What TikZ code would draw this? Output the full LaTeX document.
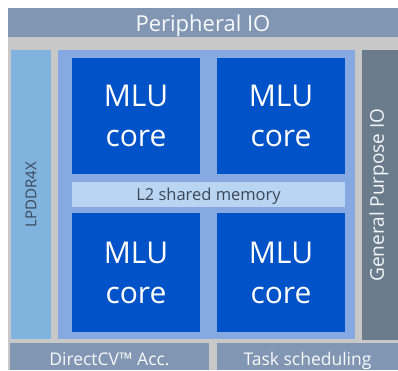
\documentclass[tikz,border=0pt]{standalone}
\usepackage{fontspec}
\setmainfont{Open Sans}
\usepackage{tikz}
\definecolor{outergray}{HTML}{C8C8C8}
\definecolor{barblue}{HTML}{8196B3}
\definecolor{ddrblue}{HTML}{80B3DE}
\definecolor{clusterblue}{HTML}{86A9E2}
\definecolor{coreblue}{HTML}{0052C8}
\definecolor{cacheblue}{HTML}{B9D5F2}
\definecolor{ioslate}{HTML}{6A7B8C}
\definecolor{darktext}{HTML}{3C4858}
\tikzset{
  block/.style={rectangle, anchor=north west, inner sep=0pt, outer sep=0pt},
  core/.style={block, fill=coreblue, text=white, minimum width=128pt, align=center,
    font=\fontsize{30}{40}\selectfont},
}

\begin{document}
\begin{tikzpicture}[x=1pt, y=-1pt]
            \useasboundingbox (0,0) rectangle (398,370);
            % Background
            \node[block, fill=outergray, minimum width=390pt, minimum height=362pt] (chip) at (8,8) {};

            % Nodes
            \node[block, fill=barblue, minimum width=390pt, minimum height=29pt] (periph) at (8,8) {};
            \node[block, fill=ddrblue, minimum width=40pt, minimum height=289pt] (lpddr) at (11,50) {};
            \node[block, fill=clusterblue, minimum width=297pt, minimum height=289pt] (cluster) at (58,50) {};
            \node[block, fill=ioslate, minimum width=36pt, minimum height=290pt] (gpio) at (362,50) {};
            \node[core, minimum height=116pt] (core1) at (72,58) {MLU\\core};
            \node[core, minimum height=116pt] (core2) at (217,58) {MLU\\core};
            \node[block, fill=cacheblue, minimum width=273pt, minimum height=25pt] (l2) at (72,182) {};
            \node[core, minimum height=119pt] (core3) at (72,213) {MLU\\core};
            \node[core, minimum height=119pt] (core4) at (217,213) {MLU\\core};
            \node[block, fill=barblue, minimum width=199pt, minimum height=27pt] (dcv) at (10,343) {};
            \node[block, fill=barblue, minimum width=181pt, minimum height=27pt] (task) at (217,343) {};

            % Labels
            \node[anchor=base, text=white!94!barblue, font=\fontsize{22}{24}\selectfont] at (periph.center |- 0,31) {Peripheral IO};
            \node[text=darktext, font=\fontsize{15}{18}\selectfont, rotate=90] at (lpddr.center) {LPDDR4X};
            \node[text=white!92!ioslate, font=\fontsize{19}{22}\selectfont, rotate=90] at ([xshift=-1pt]gpio.center) {General Purpose IO};
            \node[anchor=base, text=darktext, font=\fontsize{16.5}{18}\selectfont] at (l2.center |- 0,200) {L2 shared memory};
            \node[anchor=base, text=white!94!barblue, font=\fontsize{17.5}{20}\selectfont] at (dcv.center |- 0,365) {DirectCV™ Acc.};
            \node[anchor=base, text=white!94!barblue, font=\fontsize{17.5}{20}\selectfont] at (task.center |- 0,365) {Task scheduling};
        \end{tikzpicture}
\end{document}
